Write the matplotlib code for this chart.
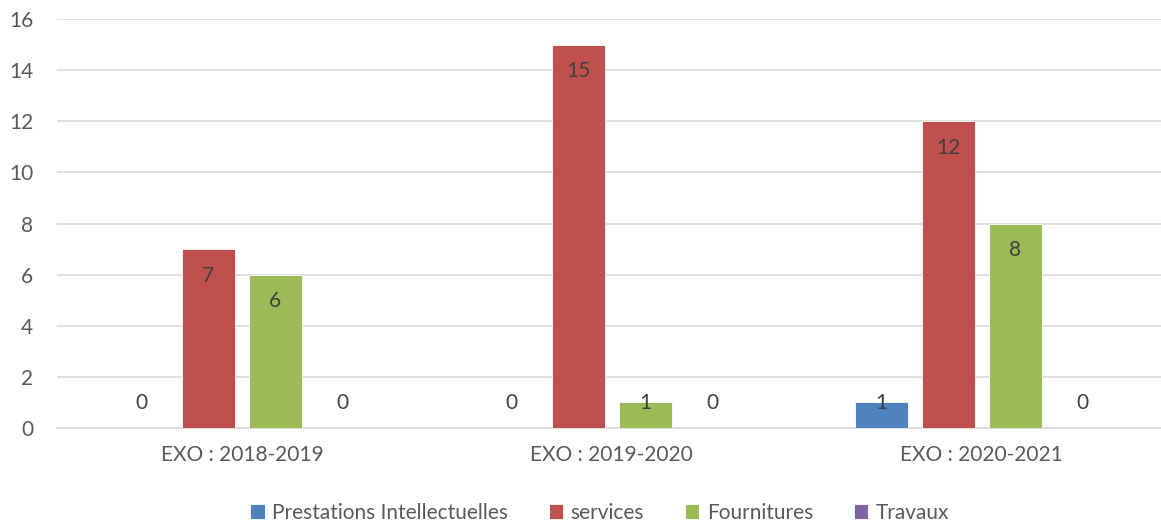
import matplotlib.pyplot as plt
import numpy as np

plt.rcParams['font.family'] = ['Lato', 'DejaVu Sans']

categories = ["EXO : 2018-2019", "EXO : 2019-2020", "EXO : 2020-2021"]
series_names = ["Prestations Intellectuelles", "services", "Fournitures", "Travaux"]
prestations = [0, 0, 1]
services = [7, 15, 12]
fournitures = [6, 1, 8]
travaux = [0, 0, 0]

colors = ['#4F81BD', '#C0504D', '#9BBB59', '#8064A2']
text_color = '#595959'
grid_color = '#D9D9D9'

fig = plt.figure(figsize=(11.61, 5.22), dpi=100)
ax = fig.add_axes([0.049, 0.18, 0.956, 0.7836])

x = np.arange(len(categories))
pitch = 0.181
width = 0.143
all_series = [prestations, services, fournitures, travaux]

for i, (name, vals, col) in enumerate(zip(series_names, all_series, colors)):
    pos = x + (i - 1.5) * pitch
    ax.bar(pos, vals, width=width, color=col, label=name, zorder=3,
           edgecolor='white', linewidth=0.6)
    for p, v in zip(pos, vals):
        ly = max(v - 1.05, 0.98)
        ax.text(p, ly, str(v), ha='center', va='center', fontsize=15,
                color='#404040', zorder=4)

ax.set_xlim(-0.5, 2.5)
ax.set_ylim(0, 16)
ax.set_yticks(range(0, 17, 2))
ax.set_xticks(x)
ax.set_xticklabels(categories)
ax.tick_params(axis='both', length=0, labelsize=15, labelcolor=text_color)
ax.tick_params(axis='x', pad=12)
ax.tick_params(axis='y', pad=17)
ax.grid(axis='y', color=grid_color, linewidth=1.2, zorder=0)
for s in ['top', 'right', 'left']:
    ax.spines[s].set_visible(False)
ax.spines['bottom'].set_color(grid_color)
ax.spines['bottom'].set_linewidth(1.2)

leg = ax.legend(loc='upper center', bbox_to_anchor=(0.489, -0.137), ncol=4,
                frameon=False, fontsize=15, handlelength=0.7, handleheight=0.7,
                handletextpad=0.35, columnspacing=1.95)
for t in leg.get_texts():
    t.set_color(text_color)

fig.savefig('out.png', dpi=100)
